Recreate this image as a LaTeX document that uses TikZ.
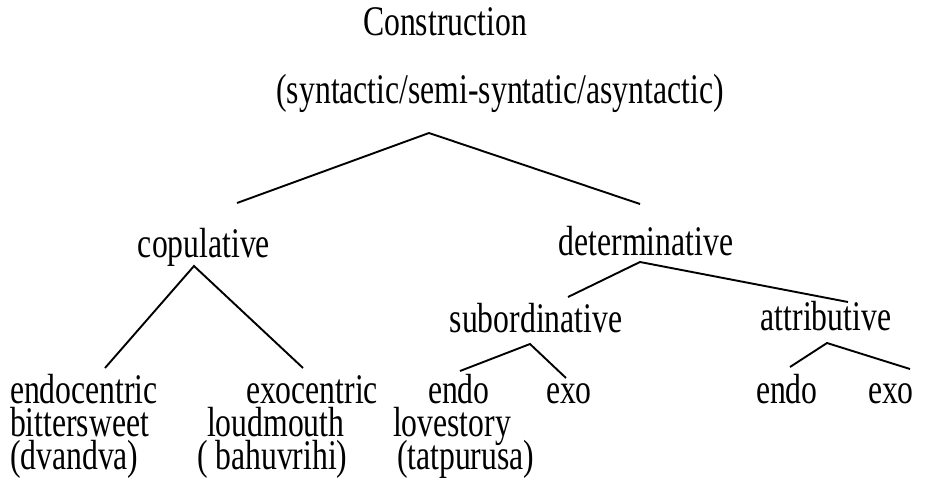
\documentclass[tikz,border=0pt]{standalone}
\usepackage{graphicx}
\usepackage{fontspec}
\setmainfont{Liberation Serif}
% labels are set in a tall, narrow face
\newcommand\tallLabel[1]{\scalebox{1}[1.33]{#1}}
\begin{document}
\begin{tikzpicture}[x=1pt,y=-1pt,
  lbl/.style={inner sep=0pt,outer sep=0pt,font=\fontsize{31.7}{38}\selectfont},
  branch/.style={line width=1.9pt,line join=miter,black}]
\useasboundingbox (0,0) rectangle (943,483);

% headings
\node[lbl,anchor=base] (construction) at (445,35) {\tallLabel{Construction}};
\node[lbl,anchor=base] (kinds) at (500,103) {\tallLabel{(syntactic/semi-syntatic/asyntactic)}};

% second level
\node[lbl,anchor=base] (copulative) at (204,257) {\tallLabel{copulative}};
\node[lbl,anchor=base] (determinative) at (646,255) {\tallLabel{determinative}};

% third level
\node[lbl,anchor=base] (subordinative) at (536,332) {\tallLabel{subordinative}};
\node[lbl,anchor=base] (attributive) at (826,330) {\tallLabel{attributive}};

% leaves, first row
\node[lbl,anchor=base west] (endocentric) at (10,403) {\tallLabel{endocentric}};
\node[lbl,anchor=base east] (exocentric) at (378,403) {\tallLabel{exocentric}};
\node[lbl,anchor=base west] (subendo) at (428,403) {\tallLabel{endo}};
\node[lbl,anchor=base west] (subexo) at (546,403) {\tallLabel{exo}};
\node[lbl,anchor=base west] (attendo) at (756,403) {\tallLabel{endo}};
\node[lbl,anchor=base west] (attexo) at (868,403) {\tallLabel{exo}};

% examples
\node[lbl,anchor=base west] (bittersweet) at (10,436) {\tallLabel{bittersweet}};
\node[lbl,anchor=base west] (loudmouth) at (207,436) {\tallLabel{loudmouth}};
\node[lbl,anchor=base west] (lovestory) at (393,436) {\tallLabel{lovestory}};

% traditional names
\node[lbl,anchor=base west] (dvandva) at (10,469) {\tallLabel{(dvandva)}};
\node[lbl,anchor=base west] (bahuvrihi) at (197,469) {\tallLabel{( bahuvrihi)}};
\node[lbl,anchor=base west] (tatpurusa) at (397,469) {\tallLabel{(tatpurusa)}};

% branch points
\coordinate (topApex) at (429,133);
\coordinate (topL) at (237,203);
\coordinate (topR) at (640,204);
\coordinate (copApex) at (194,266);
\coordinate (copL) at (105,368);
\coordinate (copR) at (303,368);
\coordinate (detApex) at (640,262);
\coordinate (detL) at (568,297);
\coordinate (detR) at (848,302);
\coordinate (subApex) at (530,344);
\coordinate (subL) at (460,371);
\coordinate (subR) at (566,378);
\coordinate (attApex) at (827,343);
\coordinate (attL) at (790,367);
\coordinate (attR) at (910,369);

% branches
\draw[branch] (topL) -- (topApex) -- (topR);
\draw[branch] (copL) -- (copApex) -- (copR);
\draw[branch] (detL) -- (detApex) -- (detR);
\draw[branch] (subL) -- (subApex) -- (subR);
\draw[branch] (attL) -- (attApex) -- (attR);
\end{tikzpicture}
\end{document}
